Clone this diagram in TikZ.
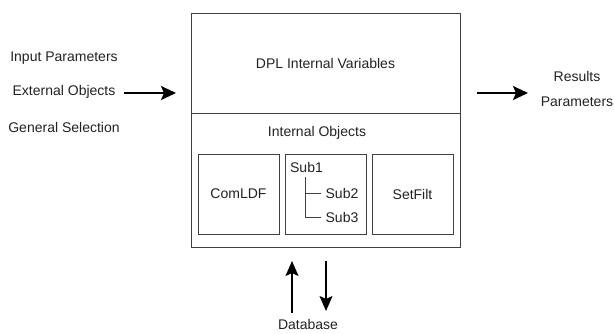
\documentclass[tikz,border=0pt]{standalone}
\usepackage{fontspec}
\setmainfont{Liberation Sans}
\usetikzlibrary{arrows.meta}
\definecolor{ln}{HTML}{404040}
\definecolor{tx}{HTML}{222222}
\tikzset{
  boxn/.style={draw=ln, line width=0.9pt, inner sep=0pt},
  lbl/.style={text=tx, inner sep=0pt},
  bigarrow/.style={line width=2.2pt, -{Stealth[length=15pt,width=14pt,inset=3pt]}},
  dbarrow/.style={line width=1.6pt, -{Stealth[length=15pt,width=13pt,inset=3pt]}},
  tree/.style={draw=ln, line width=0.8pt}
}
\begin{document}
\begin{tikzpicture}[x=1pt,y=-1pt, font=\fontsize{14}{16}\selectfont]
\useasboundingbox (0,0) rectangle (614,333);
% main boxes
\node[boxn, minimum width=269pt, minimum height=100pt] (dpl) at (325.5,63) {};
\node[lbl] (dpltxt) at (325.5,63) {DPL Internal Variables};
\node[boxn, minimum width=269pt, minimum height=134pt] (obj) at (325.5,180) {};
\node[lbl] (objtxt) at (317,133) {Internal Objects};
% inner boxes
\node[boxn, minimum width=81pt, minimum height=80pt] (com) at (238.5,194) {};
\node[lbl] (comtxt) at (238.5,194) {ComLDF};
\node[boxn, minimum width=81pt, minimum height=80pt] (sub) at (325.5,194) {};
\node[boxn, minimum width=81pt, minimum height=80pt] (set) at (412.5,194) {};
\node[lbl] (settxt) at (412.5,194) {SetFilt};
% sub tree
\node[lbl] (s1) at (306.5,167) {Sub1};
\node[lbl] (s2) at (342,193) {Sub2};
\node[lbl] (s3) at (342,217) {Sub3};
\coordinate (ttop) at (305,177);
\coordinate (tmid) at (305,193);
\coordinate (tbot) at (305,217);
\draw[tree] (ttop) -- (tbot) -- ([xshift=-4pt]s3.west);
\draw[tree] (tmid) -- ([xshift=-4pt]s2.west);
% left texts
\node[lbl] (ip) at (64,58) {Input Parameters};
\node[lbl] (eo) at (64,92) {External Objects};
\node[lbl] (gs) at (64,127) {General Selection};
% right texts
\node[lbl] (res) at (577,76) {Results};
\node[lbl] (par) at (577,102) {Parameters};
% database
\node[lbl, anchor=base] (db) at (308,329.5) {Database};
% arrows
\coordinate (la1) at (124,93);
\coordinate (la2) at (176,93);
\draw[bigarrow] (la1) -- (la2);
\coordinate (ra1) at (477,93);
\coordinate (ra2) at (528,93);
\draw[bigarrow] (ra1) -- (ra2);
\coordinate (ua1) at (292,313);
\coordinate (ua2) at (292,261);
\draw[dbarrow] (ua1) -- (ua2);
\coordinate (da1) at (326,261);
\coordinate (da2) at (326,311);
\draw[dbarrow] (da1) -- (da2);
\end{tikzpicture}
\end{document}
